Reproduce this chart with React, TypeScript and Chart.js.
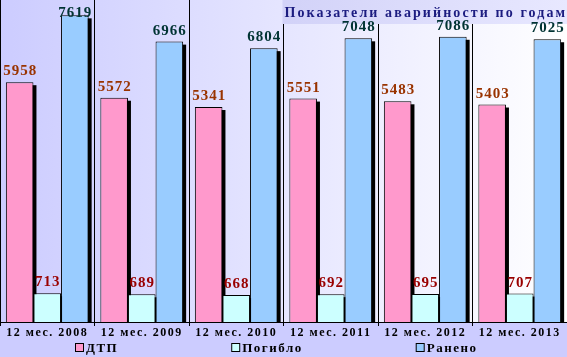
import React, { useEffect, useRef } from "react";
import { Chart, registerables } from "chart.js";

Chart.register(...registerables);

const categories = ["12 мес. 2008", "12 мес. 2009", "12 мес. 2010", "12 мес. 2011", "12 мес. 2012", "12 мес. 2013"];
const dtp = [5958, 5572, 5341, 5551, 5483, 5403];
const killed = [713, 689, 668, 692, 695, 707];
const injured = [7619, 6966, 6804, 7048, 7086, 7025];
const seriesNames = ["ДТП", "Погибло", "Ранено"];
const titleText = "Показатели аварийности по годам";
const yMax = 8000;

const FONT = "'Liberation Serif', 'Times New Roman', serif";
const barColors = ["#ff99cc", "#ccffff", "#99ccff"];
const labelColors = ["#993300", "#990000", "#003333"];

export default function App() {
  const ref = useRef<HTMLCanvasElement>(null);

  useEffect(() => {
    document.body.style.margin = "0";
    const canvas = ref.current!;

    const deco = {
      id: "deco",
      beforeDraw(chart: any) {
        const { ctx, width, height, chartArea: a } = chart;
        ctx.save();
        ctx.fillStyle = "#ccccff";
        ctx.fillRect(0, 0, width, height);
        const g = ctx.createLinearGradient(a.left, 0, a.right, 0);
        g.addColorStop(0, "#ccccff");
        g.addColorStop(1, "#ffffff");
        ctx.fillStyle = g;
        ctx.fillRect(a.left, a.top, a.right - a.left, a.bottom - a.top);
        ctx.restore();
        (ctx as any).letterSpacing = "1.5px";
      },
      beforeDatasetsDraw(chart: any) {
        const { ctx, chartArea: a } = chart;
        ctx.save();
        // title box
        const bx = a.left + (a.right - a.left) * 0.5;
        const g = ctx.createLinearGradient(bx, 0, a.right, 0);
        g.addColorStop(0, "#d2d2f8");
        g.addColorStop(1, "#e8e8ff");
        ctx.fillStyle = g;
        ctx.fillRect(bx - 1, a.top, a.right - bx + 1, 24);
        ctx.font = `bold 14px ${FONT}`;
        (ctx as any).letterSpacing = "0px";
        const raw = ctx.measureText(titleText).width;
        const target = a.right - bx - 3;
        const sp = Math.max(0, (target - raw) / (titleText.length - 1));
        (ctx as any).letterSpacing = `${sp.toFixed(2)}px`;
        ctx.fillStyle = "#1c1c80";
        ctx.textAlign = "left";
        ctx.textBaseline = "alphabetic";
        ctx.fillText(titleText, bx + 1, a.top + 17);
        // shadows
        ctx.fillStyle = "#000000";
        chart.data.datasets.forEach((_: any, di: number) => {
          const meta = chart.getDatasetMeta(di);
          meta.data.forEach((el: any) => {
            const { x, y, base, width } = el.getProps(["x", "y", "base", "width"], true);
            ctx.fillRect(x - width / 2 + 3, y + 3, width, base - y - 3);
          });
        });
        ctx.restore();
      },
      afterDatasetsDraw(chart: any) {
        const { ctx, chartArea: a } = chart;
        ctx.save();
        ctx.font = `bold 15px ${FONT}`;
        (ctx as any).letterSpacing = "1px";
        ctx.textAlign = "left";
        ctx.textBaseline = "alphabetic";
        chart.data.datasets.forEach((ds: any, di: number) => {
          const meta = chart.getDatasetMeta(di);
          ctx.fillStyle = labelColors[di];
          meta.data.forEach((el: any, i: number) => {
            const { x, y } = el.getProps(["x", "y"], true);
            const txt = String(ds.data[i]);
            const w = ctx.measureText(txt).width - 1;
            const by = Math.max(y - 7, a.top + 17);
            ctx.fillText(txt, x - w / 2, by);
          });
        });
        ctx.restore();
      },
      afterDraw(chart: any) {
        const { ctx } = chart;
        ctx.save();
        ctx.font = `bold 13px ${FONT}`;
        (ctx as any).letterSpacing = "1.5px";
        ctx.textAlign = "left";
        ctx.textBaseline = "alphabetic";
        let x = 75;
        const boxY = 343;
        seriesNames.forEach((name, i) => {
          ctx.fillStyle = barColors[i];
          ctx.fillRect(x + 0.5, boxY + 0.5, 8, 8);
          ctx.strokeStyle = "#000";
          ctx.lineWidth = 1;
          ctx.strokeRect(x + 0.5, boxY + 0.5, 8, 8);
          ctx.fillStyle = "#000";
          ctx.fillText(name, x + 11, 352);
          x += 11 + ctx.measureText(name).width + 113;
        });
        ctx.restore();
      },
    };

    const chart = new Chart(canvas, {
      type: "bar",
      data: {
        labels: categories,
        datasets: [
          { label: seriesNames[0], data: dtp, backgroundColor: barColors[0], borderColor: "#000", borderWidth: 1 },
          { label: seriesNames[1], data: killed, backgroundColor: barColors[1], borderColor: "#000", borderWidth: 1 },
          { label: seriesNames[2], data: injured, backgroundColor: barColors[2], borderColor: "#000", borderWidth: 1 },
        ],
      },
      options: {
        responsive: false,
        animation: false,
        devicePixelRatio: 1,
        layout: { padding: 0 },
        datasets: { bar: { categoryPercentage: 0.876, barPercentage: 1 } },
        plugins: { legend: { display: false }, title: { display: false }, tooltip: { enabled: false } },
        scales: {
          x: {
            offset: true,
            grid: { color: "#000", lineWidth: 1, drawOnChartArea: true, drawTicks: true, tickLength: 4, offset: true },
            border: { display: true, color: "#000", width: 1 },
            ticks: { color: "#000", font: { family: FONT, size: 12, weight: "bold" }, padding: 0, maxRotation: 0, autoSkip: false },
            afterFit: (scale: any) => { scale.height = 35; },
          },
          y: { display: false, min: 0, max: yMax },
        },
      },
      plugins: [deco],
    } as any);

    return () => chart.destroy();
  }, []);

  return <canvas ref={ref} width={567} height={357} style={{ display: "block" }} />;
}
